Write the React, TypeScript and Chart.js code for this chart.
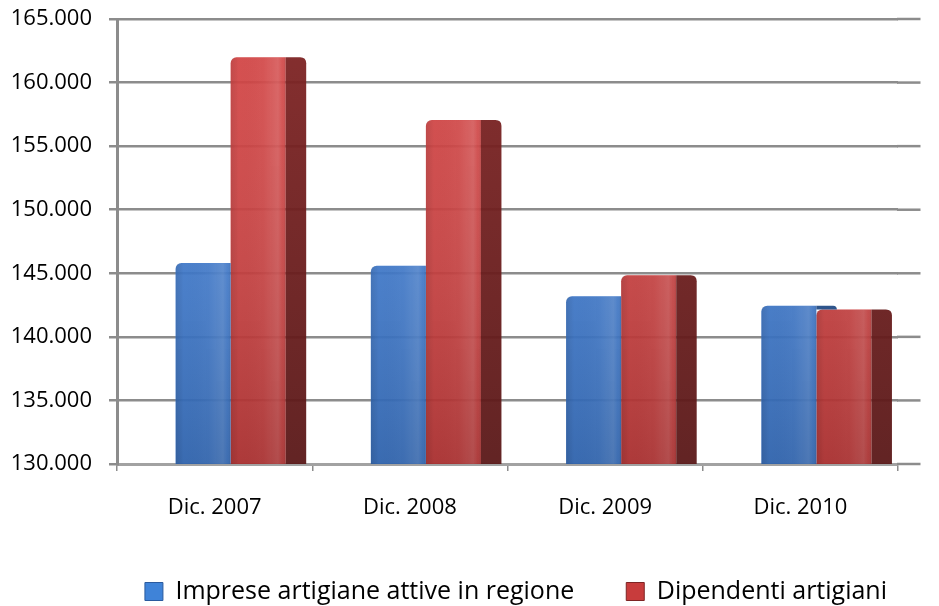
import { useEffect, useRef } from 'react';
import { Chart, registerables } from 'chart.js';

Chart.register(...registerables);

// ---- data ----
const categories = ['Dic. 2007', 'Dic. 2008', 'Dic. 2009', 'Dic. 2010'];
const seriesNames = ['Imprese artigiane attive in regione', 'Dipendenti artigiani'];
const impreseValues = [145800, 145600, 143200, 142450];
const dipendentiValues = [162000, 157050, 144850, 142150];
const yTickMin = 130000;
const yTickMax = 165000;
const yTickStep = 5000;

// ---- style ----
const FONT = "'Open Sans', 'DejaVu Sans', sans-serif";
const DEPTH_RATIO = 0.105;
const SHIFT_RATIO = 0.082;
const RADIUS = 6;
const GRID = '#8c8c8c';
const frontColors = ['rgba(56,121,212,0.93)', 'rgba(208,56,56,0.93)'];
const sideTop = ['#2a5a9e', '#802424'];
const sideBottom = ['#1f4478', '#5a1818'];
const legendFill = ['#3f83d8', '#c83c3c'];
const legendStroke = ['#2a5a9e', '#7e2424'];

const fmt = (v: number) => String(v).replace(/\B(?=(\d{3})+(?!\d))/g, '.');

function roundTopPath(ctx: CanvasRenderingContext2D, l: number, t: number, w: number, h: number, r: number, corner: 'tl' | 'tr') {
  const rr = Math.max(0, Math.min(r, w / 2, h));
  ctx.beginPath();
  if (corner === 'tl') {
    ctx.moveTo(l, t + h);
    ctx.lineTo(l, t + rr);
    ctx.quadraticCurveTo(l, t, l + rr, t);
    ctx.lineTo(l + w, t);
    ctx.lineTo(l + w, t + h);
  } else {
    ctx.moveTo(l, t + h);
    ctx.lineTo(l, t);
    ctx.lineTo(l + w - rr, t);
    ctx.quadraticCurveTo(l + w, t, l + w, t + rr);
    ctx.lineTo(l + w, t + h);
  }
  ctx.closePath();
}

const catWidth = (chart: any) => {
  const x = chart.scales.x;
  return x.getPixelForValue(1) - x.getPixelForValue(0);
};

const shiftPlugin = {
  id: 'shift3d',
  afterDatasetsUpdate(chart: any) {
    const cw = catWidth(chart);
    chart.data.datasets.forEach((_: any, di: number) => {
      chart.getDatasetMeta(di).data.forEach((el: any) => {
        el.x += cw * SHIFT_RATIO;
      });
    });
  },
};

const gridExtendPlugin = {
  id: 'gridExtend',
  beforeDatasetsDraw(chart: any) {
    const { ctx, chartArea } = chart;
    const y = chart.scales.y;
    const depth = catWidth(chart) * DEPTH_RATIO + 2;
    ctx.save();
    ctx.strokeStyle = GRID;
    ctx.lineWidth = 2.5;
    y.ticks.forEach((t: any) => {
      const py = y.getPixelForValue(t.value);
      ctx.beginPath();
      ctx.moveTo(chartArea.right - 1, py);
      ctx.lineTo(chartArea.right + depth, py);
      ctx.stroke();
    });
    ctx.restore();
  },
};

const shadePlugin = {
  id: 'shade3d',
  afterDatasetsDraw(chart: any) {
    const { ctx, chartArea } = chart;
    const depth = catWidth(chart) * DEPTH_RATIO;
    const metas = [chart.getDatasetMeta(0), chart.getDatasetMeta(1)];
    const floor = chartArea.bottom;

    ctx.save();
    ctx.beginPath();
    ctx.rect(chartArea.left, chartArea.top - 10, chartArea.width + 40, chartArea.height + 10);
    ctx.clip();

    metas.forEach((meta: any) => {
      meta.data.forEach((el: any) => {
        const { x, y, base, width } = el.getProps(['x', 'y', 'base', 'width'], true);
        const b = Math.min(base, floor);
        const l = x - width / 2;
        const r = x + width / 2;
        ctx.save();
        roundTopPath(ctx, l, y, r - l, b - y, RADIUS, 'tl');
        ctx.clip();
        const hg = ctx.createLinearGradient(l, 0, r, 0);
        hg.addColorStop(0, 'rgba(0,0,0,0.10)');
        hg.addColorStop(0.15, 'rgba(0,0,0,0)');
        hg.addColorStop(0.6, 'rgba(255,255,255,0.03)');
        hg.addColorStop(0.86, 'rgba(255,255,255,0.13)');
        hg.addColorStop(0.94, 'rgba(255,255,255,0.03)');
        hg.addColorStop(1, 'rgba(0,0,0,0.10)');
        ctx.fillStyle = hg;
        ctx.fillRect(l, y, r - l, b - y);
        const vg = ctx.createLinearGradient(0, chartArea.top, 0, chartArea.bottom);
        vg.addColorStop(0, 'rgba(255,255,255,0.05)');
        vg.addColorStop(1, 'rgba(0,0,0,0.18)');
        ctx.fillStyle = vg;
        ctx.fillRect(l, y, r - l, b - y);
        ctx.restore();
      });
    });

    const drawSide = (l: number, top: number, bottom: number, di: number) => {
      if (bottom - top <= 0) return;
      ctx.save();
      roundTopPath(ctx, l, top, depth, bottom - top, RADIUS, 'tr');
      const g = ctx.createLinearGradient(0, chartArea.top, 0, chartArea.bottom);
      g.addColorStop(0, sideTop[di]);
      g.addColorStop(1, sideBottom[di]);
      ctx.fillStyle = g;
      ctx.globalAlpha = 0.95;
      ctx.fill();
      ctx.restore();
    };
    metas[0].data.forEach((bEl: any, i: number) => {
      const b = bEl.getProps(['x', 'y', 'base', 'width'], true);
      const r = metas[1].data[i].getProps(['x', 'y', 'base', 'width'], true);
      drawSide(b.x + b.width / 2, b.y, Math.min(floor, r.y), 0);
      drawSide(r.x + r.width / 2, r.y, Math.min(floor, r.base), 1);
    });
    ctx.restore();
  },
};

export default function App() {
  const ref = useRef<HTMLCanvasElement | null>(null);

  useEffect(() => {
    if (!ref.current) return;
    Chart.defaults.font.family = FONT;
    const chart = new Chart(ref.current, {
      type: 'bar',
      data: {
        labels: categories,
        datasets: [
          {
            label: seriesNames[0],
            data: impreseValues,
            backgroundColor: frontColors[0],
            borderWidth: 0,
            borderRadius: { topLeft: RADIUS, topRight: 0, bottomLeft: 0, bottomRight: 0 },
            borderSkipped: false,
            categoryPercentage: 0.564,
            barPercentage: 1.0,
          },
          {
            label: seriesNames[1],
            data: dipendentiValues,
            backgroundColor: frontColors[1],
            borderWidth: 0,
            borderRadius: { topLeft: RADIUS, topRight: 0, bottomLeft: 0, bottomRight: 0 },
            borderSkipped: false,
            categoryPercentage: 0.564,
            barPercentage: 1.0,
          },
        ],
      },
      options: {
        responsive: false,
        animation: false,
        devicePixelRatio: 1,
        layout: { padding: { top: 19, right: 0, left: 0, bottom: 0 } },
        scales: {
          x: {
            offset: true,
            afterFit: (s: any) => { s.height = 63; },
            grid: {
              display: true,
              drawOnChartArea: false,
              drawTicks: true,
              tickLength: 7,
              offset: true,
              color: GRID,
              lineWidth: 1.5,
            },
            border: { display: true, color: '#a2a2a2', width: 3 },
            ticks: {
              color: '#000',
              font: { size: 22, family: FONT },
              padding: 24,
              maxRotation: 0,
            },
          },
          y: {
            min: yTickMin,
            max: yTickMax,
            afterFit: (s: any) => {
              s.width = 117;
              s.paddingTop = 0;
              s.paddingBottom = 0;
            },
            grid: {
              color: GRID,
              lineWidth: 2.5,
              tickLength: 8,
              drawTicks: true,
            },
            border: { display: true, color: GRID, width: 3 },
            ticks: {
              stepSize: yTickStep,
              color: '#000',
              padding: 17,
              font: { size: 22, family: FONT },
              callback: (v: any) => fmt(Number(v)),
            },
          },
          // empty right-hand gutter that leaves room for the 3D depth of the grid
          yGutter: {
            type: 'linear',
            position: 'right',
            display: true,
            afterFit: (s: any) => {
              s.width = 41;
              s.paddingTop = 0;
              s.paddingBottom = 0;
            },
            grid: { drawOnChartArea: false, drawTicks: false, display: false },
            border: { display: false },
            ticks: { display: false },
          },
        },
        plugins: {
          tooltip: { enabled: false },
          legend: {
            position: 'bottom',
            align: 'end',
            fullSize: true,
            labels: {
              color: '#000',
              font: { size: 25, family: FONT },
              boxWidth: 18,
              boxHeight: 18,
              padding: 52,
              generateLabels: (c: any) =>
                c.data.datasets.map((ds: any, i: number) => ({
                  text: ds.label,
                  fillStyle: legendFill[i],
                  strokeStyle: legendStroke[i],
                  lineWidth: 1,
                  hidden: false,
                  datasetIndex: i,
                })),
            },
          },
        },
      },
      plugins: [shiftPlugin, gridExtendPlugin, shadePlugin],
    } as any);
    return () => chart.destroy();
  }, []);

  return (
    <div style={{ position: 'absolute', left: 0, top: 0, width: 939, height: 606, overflow: 'hidden', background: '#fff' }}>
      <canvas ref={ref} width={939} height={614} style={{ display: 'block', width: 939, height: 614 }} />
    </div>
  );
}
